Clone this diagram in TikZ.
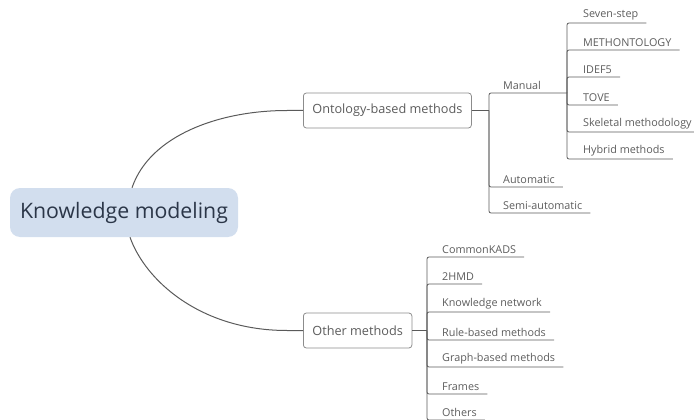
\documentclass[tikz,border=0pt]{standalone}
\usepackage{fontspec}
\setmainfont{Open Sans}
\usepackage{xcolor}
\usetikzlibrary{positioning}

\definecolor{rootfill}{HTML}{D2DEEE}
\definecolor{roottext}{HTML}{2B3648}
\definecolor{linegray}{HTML}{5A5A5A}
\definecolor{textgray}{HTML}{5C5C5C}
\definecolor{boxgray}{HTML}{8C8C8C}

\begin{document}
\begin{tikzpicture}[
    x=1pt, y=-1pt,
    rootbox/.style={rectangle, rounded corners=10pt, fill=rootfill, text=roottext, minimum width=228pt, minimum height=49pt, font=\fontsize{21.3}{24}\selectfont},
    topic/.style={rectangle, rounded corners=3pt, draw=boxgray, line width=0.8pt, text=textgray, minimum height=35pt, inner xsep=9pt, font=\fontsize{12.7}{14}\selectfont},
    leaf/.style={anchor=south west, inner xsep=8pt, inner ysep=3pt, text=textgray, font=\fontsize{10.8}{12}\selectfont},
    curve/.style={draw=linegray, line width=1pt},
    branch/.style={draw=linegray, line width=0.8pt, rounded corners=2pt}
]
    \useasboundingbox (0,0) rectangle (694,420);

    % Nodes
    \node[rootbox] (root) at (124,212.5) {Knowledge modeling};
    \node[topic, anchor=west] (onto) at (303,110.5) {Ontology-based methods};
    \node[topic, anchor=west] (other) at (303,330.5) {Other methods};

    % Junctions
    \coordinate (ojoin) at (489,110.5);
    \coordinate (mjoin) at (567,93);
    \coordinate (xjoin) at (427,330.5);

    % Ontology branch
    \node[leaf] (manual) at (495,93) {Manual};
    \node[leaf] (auto) at (495,187) {Automatic};
    \node[leaf] (semi) at (495,213) {Semi-automatic};

    \node[leaf] (seven) at (575,23) {Seven-step};
    \node[leaf] (meth) at (575,50) {METHONTOLOGY};
    \node[leaf] (idef) at (575,77) {IDEF5};
    \node[leaf] (tove) at (575,105) {TOVE};
    \node[leaf] (skel) at (575,132) {Skeletal methodology};
    \node[leaf] (hybrid) at (575,159) {Hybrid methods};

    % Other branch
    \node[leaf] (kads) at (434,257) {CommonKADS};
    \node[leaf] (hmd) at (434,284) {2HMD};
    \node[leaf] (knet) at (434,312) {Knowledge network};
    \node[leaf] (rule) at (434,340) {Rule-based methods};
    \node[leaf] (graph) at (434,367) {Graph-based methods};
    \node[leaf] (frames) at (434,394) {Frames};
    \node[leaf] (others) at (434,420) {Others};

    % Curves
    \draw[curve] ([xshift=8pt]root.north) .. controls (150,135) and (220,110.5) .. (287,110.5) -- (onto.west);
    \draw[curve] ([xshift=6pt]root.south) .. controls (145,280) and (200,330.5) .. (287,330.5) -- (other.west);

    % Lines
    \draw[branch] (onto.east) -- (ojoin);
    \draw[branch] (ojoin) |- (manual.south east) -- (mjoin);
    \draw[branch] (ojoin) |- (auto.south east);
    \draw[branch] (ojoin) |- (semi.south east);
    \foreach \n in {seven,meth,idef,tove,skel,hybrid}
        \draw[branch] (mjoin) |- (\n.south east);

    \draw[branch] (other.east) -- (xjoin);
    \foreach \n in {kads,hmd,knet,rule,graph,frames,others}
        \draw[branch] (xjoin) |- (\n.south east);
\end{tikzpicture}
\end{document}
